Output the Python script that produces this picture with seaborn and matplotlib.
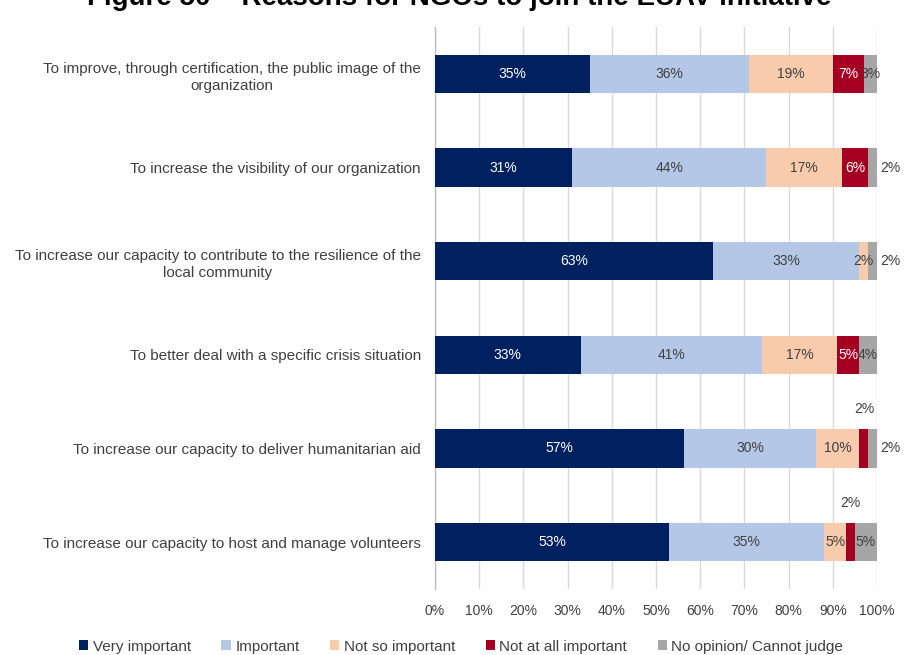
import numpy as np
import pandas as pd
import matplotlib
matplotlib.use("Agg")
import matplotlib.pyplot as plt
import seaborn as sns
from matplotlib.patches import Patch

sns.set_theme(style="white")
plt.rcParams["font.family"] = ["Liberation Sans", "DejaVu Sans"]

# Survey statements (top to bottom)
reasons = [
    "To improve, through certification, the public image of the\norganization",
    "To increase the visibility of our organization",
    "To increase our capacity to contribute to the resilience of the\nlocal community",
    "To better deal with a specific crisis situation",
    "To increase our capacity to deliver humanitarian aid",
    "To increase our capacity to host and manage volunteers",
]
levels = ["Very important", "Important", "Not so important",
          "Not at all important", "No opinion/ Cannot judge"]

very_important = [35, 31, 63, 33, 57, 53]
important = [36, 44, 33, 41, 30, 35]
not_so_important = [19, 17, 2, 17, 10, 5]
not_at_all_important = [7, 6, 0, 5, 2, 2]
no_opinion = [3, 2, 2, 4, 2, 5]

colors = ["#002060", "#B4C7E7", "#F8CBAD", "#A50021", "#A6A6A6"]
text_colors = ["white", "#404040", "#404040", "white", "#404040"]

series = [very_important, important, not_so_important, not_at_all_important, no_opinion]
vals = np.array(series, dtype=float)           # shape (5 levels, 6 reasons)
shares = vals / vals.sum(axis=0) * 100         # 100% stacked
cum = np.cumsum(shares, axis=0)

fig = plt.figure(figsize=(9.06, 6.55), dpi=100)
ax = fig.add_axes([0.480, 0.1010, 0.488, 0.8574])

# Draw cumulative totals from the outermost level inward so segments stack
for k in range(len(levels) - 1, -1, -1):
    df = pd.DataFrame({"reason": reasons, "value": cum[k]})
    sns.barplot(data=df, x="value", y="reason", orient="h", color=colors[k],
                width=0.41, saturation=1, ax=ax, zorder=3, linewidth=0)

ax.set_xlim(0, 100)
ax.set_ylim(5.5, -0.5)
ax.set_xticks(np.arange(0, 101, 10))
ax.set_xticklabels([f"{t}%" for t in range(0, 101, 10)])
ax.set_xlabel("")
ax.set_ylabel("")
ax.grid(axis="x", color="#D9D9D9", linewidth=1, zorder=0)
ax.grid(axis="y", visible=False)
for side in ["top", "right", "bottom"]:
    ax.spines[side].set_visible(False)
ax.spines["left"].set_color("#BFBFBF")
ax.spines["left"].set_linewidth(1)
ax.tick_params(axis="x", length=0, pad=11, labelsize=10, labelcolor="#404040")
ax.tick_params(axis="y", length=0, pad=10, labelsize=11, labelcolor="#404040")
for lbl in ax.get_yticklabels():
    lbl.set_multialignment("center")
    lbl.set_linespacing(1.3)

# Value labels
for k in range(len(levels)):
    for i in range(len(reasons)):
        v = series[k][i]
        if v == 0:
            continue
        x = cum[k][i] - shares[k][i] / 2
        y = i
        color = text_colors[k]
        # small segments get their label outside the bar
        if k == 4 and v <= 2:
            x = 103.0
            color = "#404040"
        elif k == 3 and v <= 2:
            y = i - 0.42
            color = "#404040"
        ax.text(x, y, f"{v}%", ha="center", va="center", fontsize=10,
                color=color, zorder=5, clip_on=False)

# Legend
handles = [Patch(facecolor=c, edgecolor="none") for c in colors]
fig.legend(handles, levels, loc="lower center", bbox_to_anchor=(0.509, -0.019),
           ncol=5, frameon=False, fontsize=11, handlelength=0.6, handleheight=0.6,
           handletextpad=0.3, columnspacing=2.0, labelcolor="#404040")

# Figure title
fig.text(0.507, 1 - 5 / 655, "Figure 50 \u2013 Reasons for NGOs to join the EUAV initiative",
         ha="center", va="baseline", fontsize=20, fontweight="bold", color="black")

fig.savefig("out.png", dpi=100)
